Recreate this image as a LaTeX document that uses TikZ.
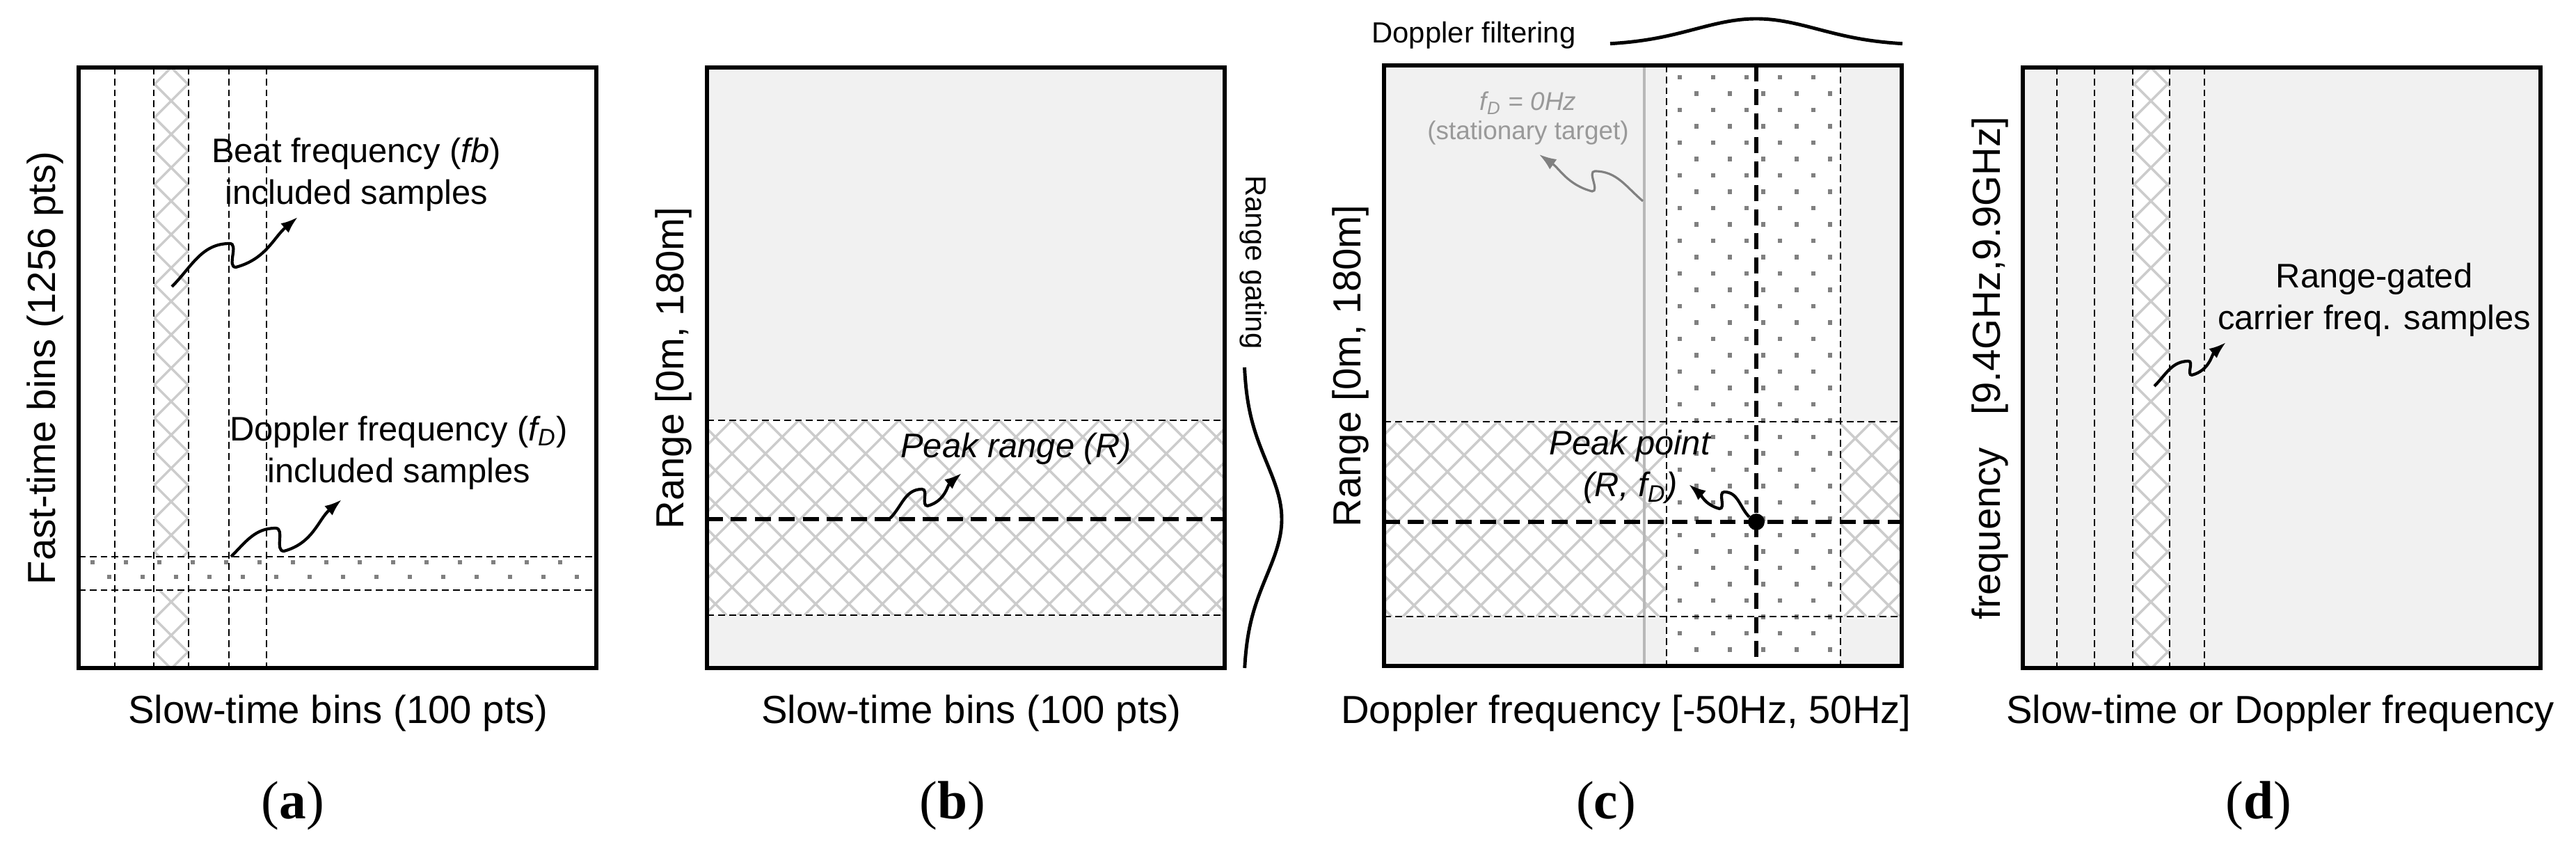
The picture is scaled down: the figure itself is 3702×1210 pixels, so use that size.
\documentclass[tikz,border=0pt]{standalone}
\usepackage{fontspec}
\setmainfont{Liberation Sans}
\newfontfamily\capfont{Liberation Serif}
\usetikzlibrary{arrows.meta}

\definecolor{bgfill}{gray}{0.945}
\definecolor{hatchc}{gray}{0.8}
\definecolor{dotc}{gray}{0.5}
\definecolor{notec}{gray}{0.6}
\definecolor{arrgray}{gray}{0.5}
\definecolor{zeroc}{gray}{0.72}

% crosshatch: x1 y1 x2 y2 phase
\newcommand{\xhatch}[5]{%
	\begin{scope}
	\clip (#1,#2) rectangle (#3,#4);
	\fill[white] (#1,#2) rectangle (#3,#4);
	\pgfmathsetmacro{\hatchh}{#4-#2}
	\pgfmathtruncatemacro{\klo}{-((#5-#1+\hatchh)/48+1)}
	\pgfmathtruncatemacro{\khi}{(#3+\hatchh-#5)/48+1}
	\foreach \k in {\klo,...,\khi}{
		\draw[hatchline] (#5+48*\k,#2) -- ++(\hatchh,\hatchh);
		\draw[hatchline] (#5+48*\k,#2) -- ++(-\hatchh,\hatchh);
	}
	\end{scope}}

\begin{document}
\begin{tikzpicture}[x=0.01cm,y=-0.01cm,
	frame/.style={line width=1.7pt},
	thindash/.style={line width=0.7pt,dash pattern=on 2.8pt off 1.7pt},
	thickdash/.style={line width=1.5pt,dash pattern=on 6.5pt off 3.3pt},
	hatchline/.style={hatchc,line width=1pt},
	zeroline/.style={zeroc,line width=0.9pt},
	gauss/.style={line width=1.4pt},
	squig/.style={line width=1.2pt,-{Latex[length=7pt,width=5pt]}},
	graysquig/.style={squig,arrgray,line width=0.9pt},
	axlbl/.style={font=\fontsize{16}{19}\selectfont},
	note/.style={font=\fontsize{13.9}{17.2}\selectfont,align=center},
	smalllbl/.style={font=\fontsize{11.9}{14}\selectfont},
	graynote/.style={font=\fontsize{10.5}{11.8}\selectfont,align=center,text=notec},
	caplbl/.style={font=\capfont\fontsize{22}{26}\selectfont}]
	\useasboundingbox (0,0) rectangle (3702,1210);
	\fill[white] (0,0) rectangle (3702,1210);

	% (a) fast-time / slow-time
	\xhatch{221}{97}{271}{960}{246}
	\fill[white] (113,800) rectangle (857,848);
	\foreach \i in {0,...,14}{
		\fill[dotc] (133+48*\i,808) +(-3.2,-3.2) rectangle +(3.2,3.2);
		\fill[dotc] (157+48*\i,829) +(-3.2,-3.2) rectangle +(3.2,3.2);
	}
	\foreach \x in {165,221,271,329,383}
		\draw[thindash] (\x,97) -- (\x,960);
	\foreach \y in {800,848}
		\draw[thindash] (113,\y) -- (857,\y);
	\draw[frame] (113,97) rectangle (857,960);
	\node[note] (beatnote) at (512,251) {Beat frequency (\textit{fb})\\included samples};
	\node[note] (dopnote) at (573,651) {Doppler frequency (\textit{f\textsubscript{D}})\\included samples};
	\coordinate (beatS) at (247,412);
	\coordinate (beatT) at (428,312);
	\coordinate (dopS) at (332,800);
	\coordinate (dopT) at (491,718);
	\draw[squig] (beatS) to[out=45,in=180] (330,350) to[out=0,in=180] (339,384) to[out=15,in=220] (beatT);
	\draw[squig] (dopS) to[out=45,in=180] (396,759) to[out=0,in=180] (408,792) to[out=15,in=220] (dopT);
	\node[axlbl,rotate=90,anchor=base] (ylbla) at (79,529) {Fast-time bins (1256 pts)};
	\node[axlbl,anchor=base] (xlbla) at (486,1040) {Slow-time bins (100 pts)};
	\node[caplbl] (capa) at (421,1158) {(\textbf{a})};

	% (b) range gating
	\fill[bgfill] (1016,97) rectangle (1760,960);
	\xhatch{1016}{604}{1760}{884}{1388}
	\foreach \y in {604,884}
		\draw[thindash] (1016,\y) -- (1760,\y);
	\draw[thickdash] (1016,746) -- (1760,746);
	\draw[frame] (1016,97) rectangle (1760,960);
	\node[note] (rangenote) at (1460,645) {\textit{Peak range (R)}};
	\coordinate (rangeS) at (1279,745);
	\coordinate (rangeT) at (1382,680);
	\draw[squig] (rangeS) to[out=45,in=180] (1325,703) to[out=0,in=180] (1333,727) to[out=15,in=220] (rangeT);
	\draw[gauss] plot[domain=528:960,samples=60] ({1787+55*exp(-((\x-746)/115)*((\x-746)/115))},\x);
	\node[smalllbl,rotate=-90,anchor=base] (gatelbl) at (1790,377) {Range gating};
	\node[axlbl,rotate=90,anchor=base] (ylblb) at (982,529) {Range [0m, 180m]};
	\node[axlbl,anchor=base] (xlblb) at (1396,1040) {Slow-time bins (100 pts)};
	\node[caplbl] (capb) at (1369,1158) {(\textbf{b})};

	% (c) doppler filtering
	\fill[bgfill] (1989,94) rectangle (2733,957);
	\xhatch{1989}{606}{2395}{886}{2200}
	\xhatch{2645}{606}{2733}{886}{2690}
	\fill[white] (2395,94) rectangle (2645,957);
	\foreach \j in {0,...,17}
		\foreach \i in {0,...,4}{
			\fill[dotc] (2414+48*\i,111+47*\j) +(-3.2,-3.2) rectangle +(3.2,3.2);
			\fill[dotc] (2438+48*\i,134.5+47*\j) +(-3.2,-3.2) rectangle +(3.2,3.2);
		}
	\draw[zeroline] (2363,94) -- (2363,957);
	\foreach \x in {2395,2645}
		\draw[thindash] (\x,94) -- (\x,957);
	\foreach \y in {606,886}
		\draw[thindash] (1989,\y) -- (2733,\y);
	\draw[thickdash] (2524,94) -- (2524,957);
	\draw[thickdash] (1989,750) -- (2733,750);
	\fill (2524,750) circle[radius=3.4pt];
	\coordinate (peakS) at (2514,743);
	\draw[frame] (1989,94) rectangle (2733,957);
	\node[note] (peaknote) at (2343,671) {\textit{Peak point}\\\textit{(R, f\textsubscript{D})}};
	\coordinate (peakT) at (2427,696);
	\draw[squig] (peakS) to[out=135,in=0] (2478,707) to[out=180,in=0] (2471,731) to[out=165,in=-40] (peakT);
	\node[graynote] (zeronote) at (2196,170) {\textit{f\textsubscript{D} = 0Hz}\\(stationary target)};
	\coordinate (zeroS) at (2361,289);
	\coordinate (zeroT) at (2212,222);
	\draw[graysquig] (zeroS) to[out=140,in=0] (2292,246) to[out=180,in=0] (2288,275) to[out=165,in=-35] (zeroT);
	\draw[gauss] plot[domain=2314:2734,samples=60] (\x,{65-38*exp(-((\x-2524)/125)*((\x-2524)/125))});
	\node[smalllbl,anchor=base] (filtlbl) at (2118,62) {Doppler filtering};
	\node[axlbl,rotate=90,anchor=base] (ylblc) at (1955,526) {Range [0m, 180m]};
	\node[axlbl,anchor=base] (xlblc) at (2337,1040) {Doppler frequency [-50Hz, 50Hz]};
	\node[caplbl] (capc) at (2308,1158) {(\textbf{c})};

	% (d) carrier frequency
	\fill[bgfill] (2907,97) rectangle (3651,960);
	\xhatch{3065}{97}{3118}{960}{3091}
	\foreach \x in {2956,3010,3065,3118,3168}
		\draw[thindash] (\x,97) -- (\x,960);
	\draw[frame] (2907,97) rectangle (3651,960);
	\node[note] (carrnote) at (3412,431) {Range-gated\\carrier freq. samples};
	\coordinate (carrS) at (3096,555);
	\coordinate (carrT) at (3199,492);
	\draw[squig] (carrS) to[out=45,in=180] (3145,519) to[out=0,in=180] (3150,539) to[out=15,in=220] (carrT);
	\node[axlbl,rotate=90,anchor=base] (ylbld) at (2874,529) {frequency~~~[9.4GHz,9.9GHz]};
	\node[axlbl,anchor=base] (xlbld) at (3277,1040) {Slow-time or Doppler frequency};
	\node[caplbl] (capd) at (3246,1158) {(\textbf{d})};
\end{tikzpicture}
\end{document}
